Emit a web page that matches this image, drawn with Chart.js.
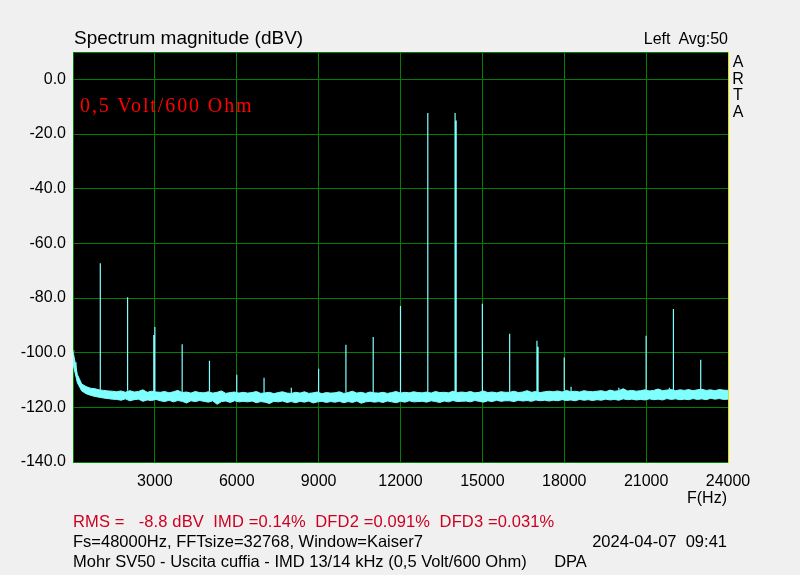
<!DOCTYPE html>
<html>
<head>
<meta charset="utf-8">
<title>Spectrum magnitude (dBV)</title>
<script src="https://cdn.jsdelivr.net/npm/chart.js@4.4.1/dist/chart.umd.min.js"></script>
<style>
  html, body { margin: 0; padding: 0; background: #f0f0f0; }
  #wrap { position: relative; width: 800px; height: 575px; overflow: hidden;
    font-family: 'Liberation Sans', Arial, sans-serif; color: #000; }
  #spectrumChart { position: absolute; left: 0; top: 0; }
  .txt { position: absolute; white-space: pre; font-size: 16px; line-height: 16px; }
  #title { left: 74px; top: 28px; font-size: 19px; line-height: 19px; }
  #channel { right: 72px; top: 31px; }
  #arta { left: 731px; top: 54px; width: 14px; text-align: center; line-height: 16.7px; }
  #note { left: 80px; top: 95px; font-family: 'Liberation Serif', 'Times New Roman', serif;
    font-size: 20px; line-height: 20px; color: #ff0000; letter-spacing: 1.9px; }
  #unit { right: 73px; top: 490px; }
  .foot { font-size: 16.5px; line-height: 16.5px; }
  #stats { left: 73px; top: 513px; color: #cc0022; letter-spacing: 0.13px; }
  #setup { left: 73px; top: 533px; }
  #stamp { right: 73px; top: 533px; }
  #caption { left: 73px; top: 553px; }
</style>
</head>
<body>
<div id="wrap">
  <canvas id="spectrumChart" width="800" height="575"></canvas>
  <div class="txt" id="title">Spectrum magnitude (dBV)</div>
  <div class="txt" id="channel">Left  Avg:50</div>
  <div class="txt" id="arta">A<br>R<br>T<br>A</div>
  <div class="txt" id="note">0,5 Volt/600 Ohm</div>
  <div class="txt" id="unit">F(Hz)</div>
  <div class="txt foot" id="stats">RMS =   -8.8 dBV  IMD =0.14%  DFD2 =0.091%  DFD3 =0.031%</div>
  <div class="txt foot" id="setup">Fs=48000Hz, FFTsize=32768, Window=Kaiser7</div>
  <div class="txt foot" id="stamp">2024-04-07  09:41</div>
  <div class="txt foot" id="caption">Mohr SV50 - Uscita cuffia - IMD 13/14 kHz (0,5 Volt/600 Ohm)      DPA</div>
</div>
<script>
// axis ticks
const xTickValues = [0, 3000, 6000, 9000, 12000, 15000, 18000, 21000, 24000];
const yTickValues = [10, 0, -20, -40, -60, -80, -100, -120, -140];

// noise floor band, top and bottom edge read every 160 Hz from 0 to 24000 Hz (dBV)
const floorStep = 160;
const floorUpper = [
  -99.5, -108.0, -111.5, -112.4, -113.0, -113.2, -113.6, -113.8, -114.0, -114.1,
  -114.3, -114.0, -114.5, -113.9, -114.4, -114.2, -113.6, -114.5, -114.1, -114.4,
  -114.5, -114.2, -114.7, -114.3, -113.8, -114.6, -114.4, -114.8, -114.2, -114.6,
  -114.7, -114.3, -114.8, -114.5, -114.0, -114.9, -114.6, -114.4, -114.8, -114.5,
  -114.8, -114.6, -114.2, -114.9, -114.7, -114.5, -115.0, -114.6, -114.3, -114.8,
  -114.9, -114.5, -114.8, -114.3, -114.9, -114.7, -114.4, -115.0, -114.6, -114.8,
  -114.7, -114.3, -114.9, -114.6, -114.1, -114.8, -114.5, -114.9, -114.4, -114.7,
  -114.8, -114.5, -114.9, -114.6, -114.2, -114.8, -114.5, -114.7, -114.3, -114.6,
  -114.7, -114.4, -114.8, -114.2, -114.6, -114.5, -114.7, -114.1, -114.6, -114.4,
  -114.6, -114.2, -114.7, -114.5, -114.0, -114.6, -114.4, -114.7, -114.3, -114.5,
  -114.5, -114.1, -114.6, -114.4, -113.9, -114.5, -114.2, -114.6, -114.3, -114.1,
  -114.3, -114.0, -114.4, -113.8, -114.3, -114.1, -114.4, -113.9, -114.2, -114.3,
  -114.1, -113.9, -114.3, -113.7, -114.1, -113.9, -113.2, -114.0, -113.8, -114.1,
  -113.9, -113.6, -114.0, -113.8, -113.3, -113.9, -113.7, -113.5, -113.9, -113.6,
  -113.8, -113.5, -113.9, -113.6, -113.4, -113.8, -113.6, -113.9, -113.5, -113.7,
  -113.8
];
const floorLower = [
  -104.0, -111.0, -114.0, -115.0, -115.6, -116.0, -116.3, -116.6, -116.8, -117.0,
  -117.1, -117.4, -116.9, -117.6, -117.2, -117.0, -117.8, -117.3, -117.5, -117.1,
  -117.6, -117.9, -117.4, -118.0, -117.5, -117.8, -118.4, -117.6, -117.9, -117.5,
  -117.8, -118.1, -117.6, -118.9, -117.9, -117.7, -118.2, -117.6, -118.0, -117.8,
  -118.0, -117.7, -118.3, -117.9, -118.1, -118.6, -117.8, -118.0, -117.7, -118.2,
  -117.9, -118.3, -117.8, -118.1, -117.7, -118.4, -118.0, -117.8, -118.2, -117.9,
  -118.1, -117.8, -118.3, -117.9, -118.2, -117.7, -118.5, -118.0, -117.8, -118.1,
  -117.9, -118.2, -117.7, -118.0, -118.3, -117.8, -118.1, -117.6, -118.0, -117.9,
  -117.8, -118.1, -117.6, -117.9, -118.2, -117.7, -118.0, -117.5, -117.9, -117.8,
  -117.7, -118.0, -117.5, -117.8, -118.1, -117.6, -117.9, -117.4, -117.8, -117.6,
  -117.6, -117.9, -117.4, -117.7, -117.5, -117.8, -117.3, -117.6, -117.4, -117.7,
  -117.4, -117.6, -117.2, -117.5, -117.3, -117.6, -117.1, -117.4, -117.2, -117.5,
  -117.2, -117.4, -117.0, -117.3, -117.1, -117.4, -116.9, -117.2, -117.0, -117.3,
  -117.1, -117.3, -116.9, -117.2, -117.0, -117.3, -116.8, -117.1, -116.9, -117.2,
  -117.0, -117.2, -116.8, -117.1, -116.9, -117.2, -116.7, -117.0, -116.8, -117.1,
  -117.0
];

// tones, harmonics and intermodulation products
const spikeFreqs = [40, 110, 1000, 2000, 2960, 3000, 4000, 5000, 6000, 7000, 8000, 9000, 10000, 11000, 12000,
  13000, 14000, 14040, 15000, 16000, 17000, 17040, 18000, 18250, 18950, 20000, 21000, 21850, 22000, 23000];
const spikeLevels = [-99.2, -103.5, -67.3, -79.7, -93.5, -90.6, -96.9, -103.0, -108.1, -109.2, -112.8, -105.9, -97.1, -94.3, -82.9,
  -12.3, -12.3, -15.1, -82.1, -93.1, -95.6, -97.8, -101.8, -112.5, -114.0, -112.8, -93.8, -112.8, -84.0, -102.6];

const gridColor = '#008000';
const traceColor = '#80ffff';

const upperPoints = floorUpper.map((level, index) => ({ x: index * floorStep, y: level }));
const lowerPoints = floorLower.map((level, index) => ({ x: index * floorStep, y: level }));

const spikePoints = [];
spikeFreqs.forEach((freq, index) => {
  const base = floorUpper[Math.round(freq / floorStep)];
  spikePoints.push({ x: freq, y: base }, { x: freq, y: spikeLevels[index] }, { x: freq, y: base }, { x: freq, y: null });
});

const plotFrame = {
  id: 'plotFrame',
  beforeDraw: (chart) => {
    const { ctx, chartArea } = chart;
    ctx.save();
    ctx.fillStyle = '#000000';
    ctx.fillRect(chartArea.left, chartArea.top, chartArea.width, chartArea.height);
    ctx.restore();
  },
  afterDraw: (chart) => {
    const { ctx, chartArea } = chart;
    ctx.save();
    ctx.strokeStyle = '#e0e000';
    ctx.lineWidth = 1;
    ctx.beginPath();
    ctx.moveTo(Math.round(chartArea.right) + 0.5, chartArea.top);
    ctx.lineTo(Math.round(chartArea.right) + 0.5, chartArea.bottom + 1);
    ctx.stroke();
    ctx.restore();
  }
};

const tickFont = { family: "'Liberation Sans', Arial, sans-serif", size: 16 };

new Chart(document.getElementById('spectrumChart'), {
  type: 'line',
  data: {
    datasets: [
      {
        label: 'Noise floor top',
        data: upperPoints,
        borderColor: traceColor,
        backgroundColor: traceColor,
        borderWidth: 1,
        pointRadius: 0,
        tension: 0,
        fill: '+1'
      },
      {
        label: 'Noise floor bottom',
        data: lowerPoints,
        borderColor: traceColor,
        borderWidth: 1,
        pointRadius: 0,
        tension: 0,
        fill: false
      },
      {
        label: 'Spectral lines',
        data: spikePoints,
        borderColor: traceColor,
        borderWidth: 1.2,
        pointRadius: 0,
        tension: 0,
        spanGaps: false,
        fill: false
      }
    ]
  },
  options: {
    responsive: false,
    animation: false,
    events: [],
    layout: { padding: { left: 0, top: 52, right: 72, bottom: 0 } },
    plugins: {
      legend: { display: false },
      tooltip: { enabled: false }
    },
    scales: {
      x: {
        type: 'linear',
        min: 0,
        max: 24000,
        afterBuildTicks: (scale) => { scale.ticks = xTickValues.map((value) => ({ value })); },
        afterFit: (scale) => { scale.height = 113; },
        grid: { color: gridColor, lineWidth: 1, drawTicks: false },
        border: { color: gridColor, width: 1 },
        ticks: {
          color: '#000000',
          font: tickFont,
          padding: 10,
          maxRotation: 0,
          autoSkip: false,
          callback: (value) => (value === 0 ? '' : String(value))
        }
      },
      y: {
        type: 'linear',
        min: -140,
        max: 10,
        afterBuildTicks: (scale) => { scale.ticks = yTickValues.map((value) => ({ value })); },
        afterFit: (scale) => { scale.width = 73; },
        grid: { color: gridColor, lineWidth: 1, drawTicks: false },
        border: { color: gridColor, width: 1 },
        ticks: {
          color: '#000000',
          font: tickFont,
          padding: 7,
          autoSkip: false,
          callback: (value) => (value === 10 ? '' : value.toFixed(1))
        }
      }
    }
  },
  plugins: [plotFrame]
});
</script>
</body>
</html>
